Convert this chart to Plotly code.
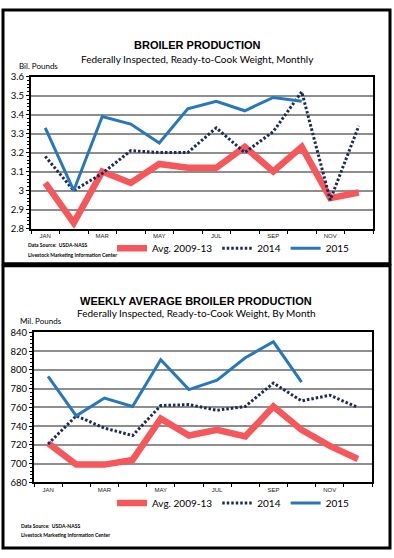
import plotly.graph_objects as go

W, H = 394, 558

months = ["JAN", "FEB", "MAR", "APR", "MAY", "JUN", "JUL", "AUG", "SEP", "OCT", "NOV", "DEC"]

# Top chart: monthly production, billion pounds
monthly_avg_0913 = [3.04, 2.83, 3.10, 3.04, 3.14, 3.12, 3.12, 3.23, 3.10, 3.23, 2.96, 2.99]
monthly_2014 = [3.18, 3.00, 3.09, 3.21, 3.20, 3.20, 3.33, 3.20, 3.31, 3.52, 2.95, 3.34]
monthly_2015 = [3.33, 3.00, 3.39, 3.35, 3.25, 3.43, 3.47, 3.42, 3.49, 3.47]

# Bottom chart: weekly average production, million pounds
weekly_avg_0913 = [722, 699, 699, 704, 748, 730, 736, 729, 761, 736, 719, 705]
weekly_2014 = [721, 751, 738, 730, 762, 763, 757, 761, 786, 767, 773, 760]
weekly_2015 = [793, 751, 770, 761, 811, 779, 789, 813, 830, 787]

series_names = ["Avg. 2009-13", "2014", "2015"]

RED = "#F5575B"
NAVY = "#1B2A5A"
BLUE = "#2677BD"
GRID = "#8E8E8E"
FONT = "Lato"


def px_x(p):
    return p / W


def px_y(p):
    return 1 - p / H


fig = go.Figure()


def add_series(xaxis, yaxis, legend, avg, y14, y15):
    fig.add_trace(go.Scatter(x=months[:len(avg)], y=avg, name=series_names[0], mode="lines",
                             line=dict(color=RED, width=6.5), xaxis=xaxis, yaxis=yaxis, legend=legend))
    fig.add_trace(go.Scatter(x=months[:len(y14)], y=y14, name=series_names[1], mode="lines",
                             line=dict(color=NAVY, width=3, dash="2.5px,2px"), xaxis=xaxis, yaxis=yaxis,
                             legend=legend))
    fig.add_trace(go.Scatter(x=months[:len(y15)], y=y15, name=series_names[2], mode="lines",
                             line=dict(color=BLUE, width=3), xaxis=xaxis, yaxis=yaxis, legend=legend))


add_series("x", "y", "legend", monthly_avg_0913, monthly_2014, monthly_2015)
add_series("x2", "y2", "legend2", weekly_avg_0913, weekly_2014, weekly_2015)

xcommon = dict(type="category", categoryorder="array", categoryarray=months,
               range=[-0.5, 11.5], showline=True, linewidth=2, linecolor="black", mirror=True,
               ticks="outside", ticklen=3, tickwidth=1, tickcolor="black", tickson="boundaries",
               ticklabelstep=2, showgrid=False, fixedrange=True,
               tickfont=dict(family="Liberation Sans", size=6, color="#222"))
ycommon = dict(showline=True, linewidth=2, linecolor="black", mirror=True,
               ticks="outside", ticklen=3, tickwidth=1, tickcolor="black",
               showgrid=True, gridcolor=GRID, gridwidth=1.5, zeroline=False, fixedrange=True,
               tickfont=dict(family=FONT, size=9.5, color="black"))

legend_common = dict(orientation="h", x=px_x(112), xanchor="left", yanchor="middle",
                     font=dict(family=FONT, size=10, color="black"), itemwidth=30,
                     bgcolor="rgba(0,0,0,0)", tracegroupgap=0)

fig.update_layout(
    width=W, height=H, autosize=False,
    margin=dict(l=0, r=0, t=0, b=0),
    paper_bgcolor="white", plot_bgcolor="white",
    xaxis=dict(domain=[px_x(31), px_x(373)], anchor="y", **xcommon),
    yaxis=dict(domain=[px_y(227), px_y(72)], anchor="x", range=[2.8, 3.6], dtick=0.1,
               minor=dict(ticks="outside", ticklen=2, dtick=0.02, tickcolor="black", showgrid=False),
               **ycommon),
    xaxis2=dict(domain=[px_x(34), px_x(372)], anchor="y2", **xcommon),
    yaxis2=dict(domain=[px_y(486), px_y(333)], anchor="x2", range=[680, 840], dtick=20,
                minor=dict(ticks="outside", ticklen=2, dtick=4, tickcolor="black", showgrid=False),
                **ycommon),
    legend=dict(y=px_y(247), **legend_common),
    legend2=dict(y=px_y(507), **legend_common),
    showlegend=True,
)

# Outer frames
fig.add_shape(type="rect", xref="paper", yref="paper", x0=px_x(3), x1=px_x(390), y0=px_y(263), y1=px_y(4),
              line=dict(color="black", width=3), layer="below")
fig.add_shape(type="rect", xref="paper", yref="paper", x0=px_x(3), x1=px_x(390), y0=px_y(553), y1=px_y(265),
              line=dict(color="black", width=3), layer="below")


def text(x, y, s, size, bold=False, family=FONT, xanchor="left"):
    fig.add_annotation(xref="paper", yref="paper", x=px_x(x), y=px_y(y), text=f"<b>{s}</b>" if bold else s,
                       showarrow=False, xanchor=xanchor, yanchor="middle",
                       font=dict(family=family, size=size, color="black"))


# Top chart texts
text(197, 40, "BROILER PRODUCTION", 11, bold=True, family="Liberation Sans", xanchor="center")
text(198, 54, "Federally Inspected, Ready-to-Cook Weight, Monthly", 10, xanchor="center")
text(17, 61, "Bil. Pounds", 8)
text(26, 244, "Data Source:  USDA-NASS", 5, bold=True)
text(26, 254, "Livestock Marketing Information Center", 5, bold=True)

# Bottom chart texts
text(196, 301, "WEEKLY AVERAGE BROILER PRODUCTION", 11, bold=True, family="Liberation Sans", xanchor="center")
text(196, 313, "Federally Inspected, Ready-to-Cook Weight, By Month", 10, xanchor="center")
text(18, 321, "Mil. Pounds", 8)
text(19, 530, "Data Source:  USDA-NASS", 5, bold=True)
text(19, 540, "Livestock Marketing Information Center", 5, bold=True)

fig.write_html("out.html", config={"displayModeBar": False},
               post_script="document.body.style.margin='0';document.body.style.overflow='hidden';")
